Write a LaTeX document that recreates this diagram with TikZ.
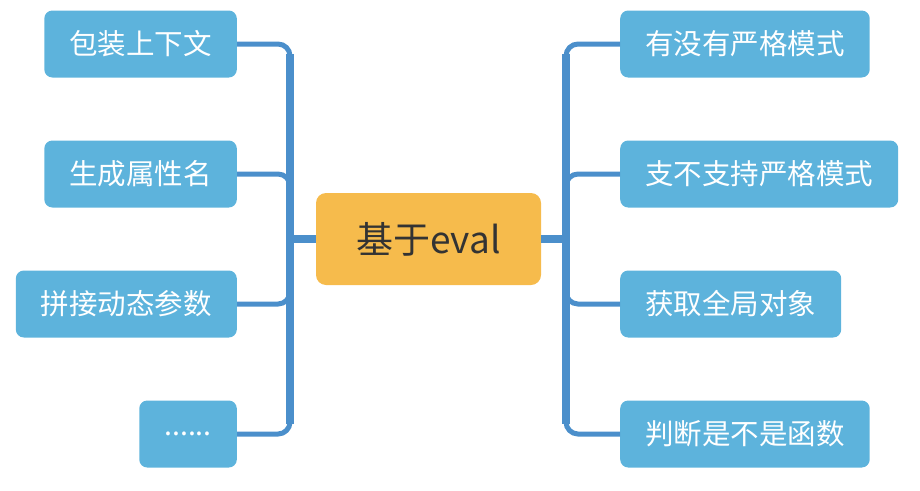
\documentclass[tikz,border=0pt]{standalone}
\usepackage{fontspec}
\setmainfont{Noto Sans CJK SC}
\usepackage{xcolor}
\usepackage{tikz}

\definecolor{leafblue}{HTML}{5DB3DC}
\definecolor{lineblue}{HTML}{4B8FCB}
\definecolor{rootorange}{HTML}{F6BB4C}
\definecolor{roottext}{HTML}{333333}

\newcommand{\moredots}{......}

\tikzset{
  leaf/.style={rectangle, rounded corners=8pt, fill=leafblue, text=white,
    font=\fontsize{28.5}{32}\selectfont, minimum height=67pt, inner xsep=25pt},
  root/.style={rectangle, rounded corners=10pt, fill=rootorange, text=roottext,
    font=\fontsize{37}{42}\selectfont, minimum width=225pt, minimum height=92pt},
  branch/.style={draw=lineblue, line width=5pt, rounded corners=12pt},
  trunk/.style={draw=lineblue, line width=8pt},
}

\begin{document}
\begin{tikzpicture}[x=1pt, y=-1pt]
  \useasboundingbox (0,0) rectangle (920,490);

  \node (root) at (428.5, 239) [root] {基于eval};

  \coordinate (lj) at (290, 239);
  \coordinate (rj) at (566, 239);

  % left side
  \foreach \i/\t/\y in {1/包装上下文/44, 2/生成属性名/174, 3/拼接动态参数/304, 4/\moredots/434} {
    \node (l\i) at (237, \y) [leaf, anchor=east] {\t};
    \draw[branch] (lj) |- (l\i.east);
  }

  % right side
  \foreach \i/\t/\y in {1/有没有严格模式/44, 2/支不支持严格模式/174, 3/获取全局对象/304, 4/判断是不是函数/434} {
    \node (r\i) at (620, \y) [leaf, anchor=west] {\t};
    \draw[branch] (rj) |- (r\i.west);
  }

  \draw[trunk] ([yshift=-10pt]l1.east -| lj) -- ([yshift=10pt]l4.east -| lj);
  \draw[trunk] ([yshift=-10pt]r1.west -| rj) -- ([yshift=10pt]r4.west -| rj);
  \draw[trunk] (root.west) -- (lj);
  \draw[trunk] (root.east) -- (rj);
\end{tikzpicture}
\end{document}
